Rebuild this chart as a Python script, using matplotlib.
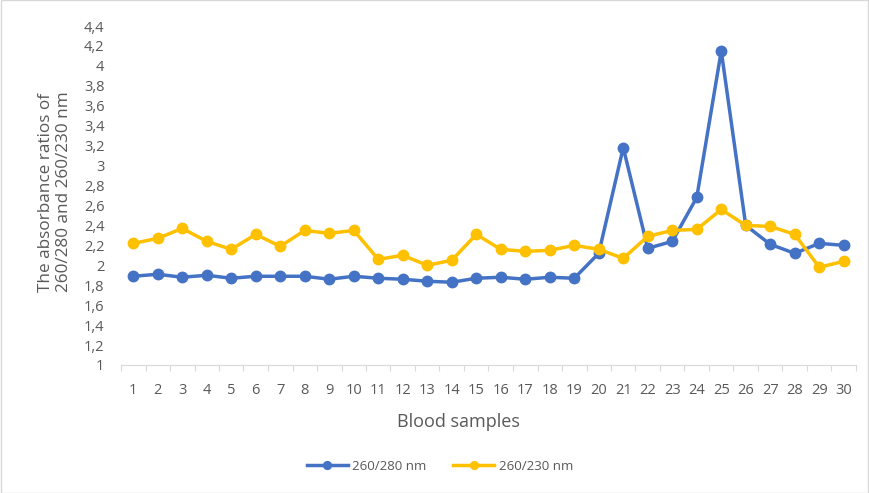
import matplotlib
matplotlib.use("Agg")
import matplotlib.pyplot as plt
from matplotlib.patches import Rectangle
import numpy as np

samples = list(range(1, 31))
ratio_260_280 = [1.89, 1.91, 1.88, 1.90, 1.87, 1.89, 1.89, 1.89, 1.86, 1.89,
                 1.87, 1.86, 1.84, 1.83, 1.87, 1.88, 1.86, 1.88, 1.87, 2.12,
                 3.18, 2.17, 2.24, 2.68, 4.15, 2.40, 2.21, 2.12, 2.22, 2.20]
ratio_260_230 = [2.22, 2.27, 2.37, 2.24, 2.16, 2.31, 2.19, 2.35, 2.32, 2.35,
                 2.06, 2.10, 2.00, 2.05, 2.31, 2.16, 2.14, 2.15, 2.20, 2.16,
                 2.07, 2.29, 2.35, 2.36, 2.56, 2.40, 2.39, 2.31, 1.98, 2.04]
y_ticks = [1.0 + 0.2 * i for i in range(18)]
y_tick_labels = [("%g" % round(v, 1)).replace(".", ",") for v in y_ticks]

plt.rcParams['font.family'] = ['Open Sans', 'DejaVu Sans']
grey = '#595959'
W, H = 869, 493

fig = plt.figure(figsize=(8.69, 4.93), dpi=100)
ax = fig.add_axes([121/W, 1 - 365/H, (856-121)/W, (365-26)/H])

ax.plot(samples, ratio_260_280, color='#4472C4', lw=2.5, marker='o', ms=7.5,
        label='260/280 nm', zorder=3)
ax.plot(samples, ratio_260_230, color='#FFC000', lw=2.5, marker='o', ms=7.5,
        label='260/230 nm', zorder=3)

ax.set_xlim(0.5, 30.5)
ax.set_ylim(1, 4.4)
ax.set_yticks(y_ticks)
ax.set_yticklabels(y_tick_labels)
ax.set_xticks(samples)
ax.set_xticklabels([str(s) for s in samples])
ax.set_xticks(np.arange(0.5, 31, 1), minor=True)
ax.tick_params(axis='x', which='major', length=0, pad=13, labelsize=10.5, colors=grey)
ax.tick_params(axis='x', which='minor', length=4, color='#D9D9D9', width=0.8)
ax.tick_params(axis='y', length=0, pad=12, labelsize=10.5, colors=grey)

for s in ['top', 'right', 'left']:
    ax.spines[s].set_visible(False)
ax.spines['bottom'].set_color('#D9D9D9')
ax.spines['bottom'].set_linewidth(0.8)

fig.text(458/W, 1 - 422/H, 'Blood samples', fontsize=13, color=grey,
         ha='center', va='center')
fig.text(55/W, 1 - 192/H, 'The absorbance ratios of\n260/280 and 260/230 nm',
         fontsize=12.3, color=grey, rotation=90, ha='center', va='center',
         multialignment='center', linespacing=1.15)

fig.legend(loc='center', bbox_to_anchor=(440/W, 1 - 466/H), ncol=2, frameon=False,
           fontsize=9.5, labelcolor=grey, handlelength=3.1, handletextpad=0.35,
           columnspacing=2.0, markerscale=0.75)

fig.patches.append(Rectangle((0.001, 0.001), 0.998, 0.998, transform=fig.transFigure,
                             fill=False, edgecolor='#D9D9D9', lw=1))

fig.savefig('out.png', dpi=100)
